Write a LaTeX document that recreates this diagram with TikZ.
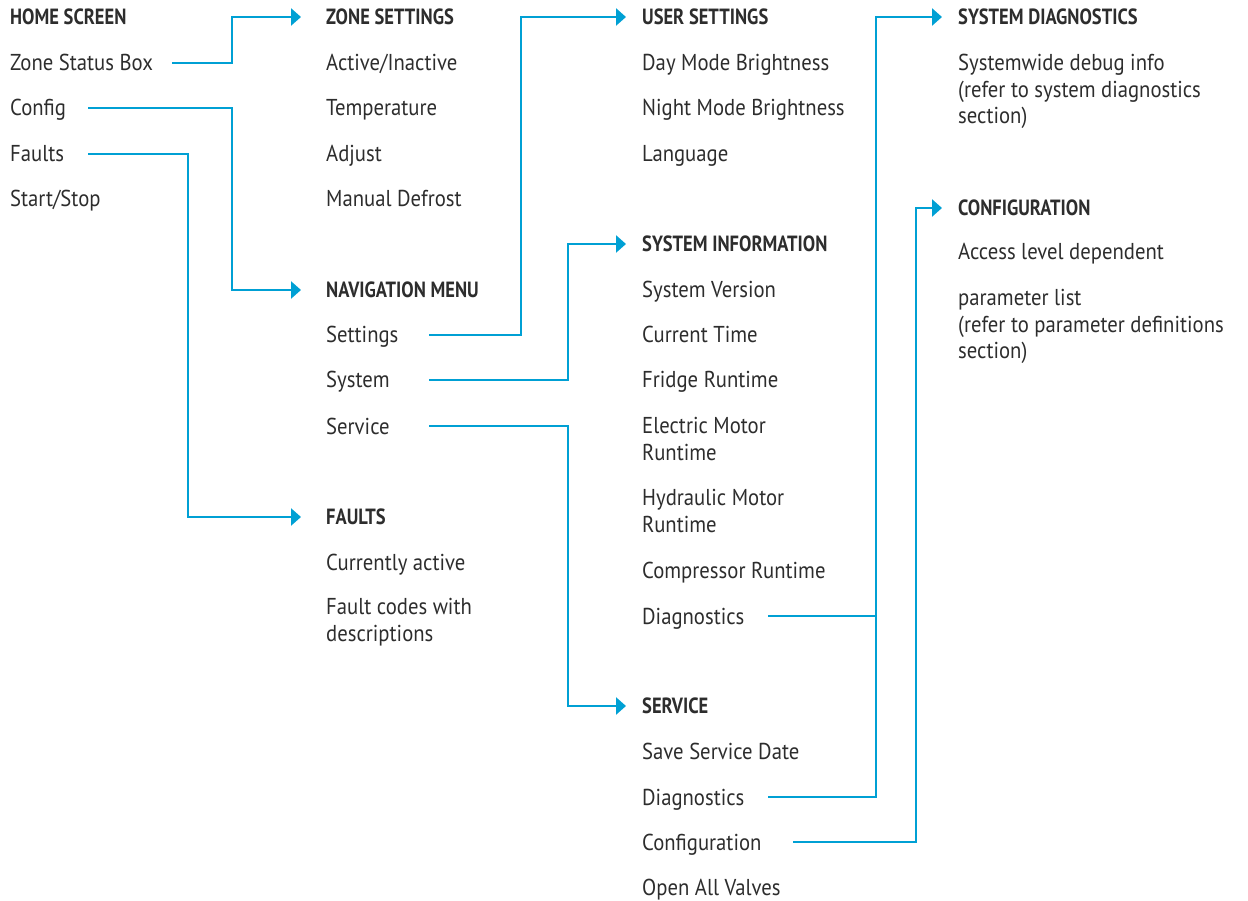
\documentclass[tikz,border=0pt]{standalone}
\usepackage{fontspec}
\setmainfont{PT Sans}[FakeStretch=0.9]
\newfontfamily\headfont{PT Sans}[FakeStretch=0.84]
\usetikzlibrary{arrows.meta}
\definecolor{menublue}{RGB}{0,160,212}
\definecolor{menutext}{RGB}{45,45,45}
\tikzset{
  item/.style={anchor=west, inner sep=0pt, text height=16pt, text depth=0pt, align=left,
    text=menutext, font=\fontsize{23}{26.5}\selectfont},
  head/.style={anchor=west, inner sep=0pt, text height=15.5pt, text depth=0pt,
    text=menutext, font=\headfont\bfseries\fontsize{22}{24}\selectfont},
  link/.style={draw=menublue, line width=2.5pt},
  tolink/.style={link, -{Triangle[length=10pt,width=17pt]}}
}
\begin{document}
\begin{tikzpicture}[x=1pt, y=-1pt]
\useasboundingbox (0,0) rectangle (1248,901);
% home screen
\node[head] (hs)  at (10,17)  {HOME SCREEN};
\node[item] (zsb) at (10,63)  {Zone Status Box};
\node[item] (cfg) at (10,108) {Config};
\node[item] (flt) at (10,154) {Faults};
\node[item] (ss)  at (10,199) {Start/Stop};
% second column
\node[head] (zs)  at (326,17)  {ZONE SETTINGS};
\node[item] (ai)  at (326,63)  {Active/Inactive};
\node[item] (tmp) at (326,108) {Temperature};
\node[item] (adj) at (326,154) {Adjust};
\node[item] (md)  at (326,199) {Manual Defrost};
\node[head] (nav) at (326,290) {NAVIGATION MENU};
\node[item] (set) at (326,335) {Settings};
\node[item] (sys) at (326,380) {System};
\node[item] (svc) at (326,426) {Service};
\node[head] (fh)  at (326,517) {FAULTS};
\node[item] (ca)  at (326,562) {Currently active};
\node[item] (fc)  at (326,633) {Fault codes with\\descriptions};
% third column
\node[head] (us)   at (642,17)  {USER SETTINGS};
\node[item] (dmb)  at (642,63)  {Day Mode Brightness};
\node[item] (nmb)  at (642,108) {Night Mode Brightness};
\node[item] (lang) at (642,154) {Language};
\node[head] (si)   at (642,244) {SYSTEM INFORMATION};
\node[item] (sv)   at (642,290) {System Version};
\node[item] (ct)   at (642,335) {Current Time};
\node[item] (fr)   at (642,380) {Fridge Runtime};
\node[item] (emr)  at (642,452) {Electric Motor\\Runtime};
\node[item] (hmr)  at (642,524) {Hydraulic Motor\\Runtime};
\node[item] (cr)   at (642,570) {Compressor Runtime};
\node[item] (dia)  at (642,616) {Diagnostics};
\node[head] (sh)   at (642,706) {SERVICE};
\node[item] (ssd)  at (642,751) {Save Service Date};
\node[item] (sdia) at (642,797) {Diagnostics};
\node[item] (scfg) at (642,842) {Configuration};
\node[item] (oav)  at (642,887) {Open All Valves};
% fourth column
\node[head] (sd)   at (958,17)  {SYSTEM DIAGNOSTICS};
\node[item] (swd)  at (958,116) {Systemwide debug info\\(refer to system diagnostics\\section)};
\node[head] (conf) at (958,208) {CONFIGURATION};
\node[item] (ald)  at (958,252) {Access level dependent};
\node[item] (pl)   at (958,351) {parameter list\\(refer to parameter definitions\\section)};
% connectors
\draw[tolink] (zsb.east -| 172,0) -| (232,0 |- zs.west) -- (zs.west -| 301,0);
\draw[tolink] (cfg.east -| 88,0) -| (232,0 |- nav.west) -- (nav.west -| 301,0);
\draw[tolink] (flt.east -| 88,0) -| (188,0 |- fh.west) -- (fh.west -| 301,0);
\draw[tolink] (set.east -| 429,0) -| (521,0 |- us.west) -- (us.west -| 626,0);
\draw[tolink] (sys.east -| 429,0) -| (568,0 |- si.west) -- (si.west -| 626,0);
\draw[tolink] (svc.east -| 429,0) -| (568,0 |- sh.west) -- (sh.west -| 626,0);
\draw[tolink] (dia.east -| 768,0) -| (876,0 |- sd.west) -- (sd.west -| 942,0);
\draw[link] (sdia.east -| 768,0) -| (876,0 |- dia.east);
\draw[tolink] (scfg.east -| 793,0) -| (916,0 |- conf.west) -- (conf.west -| 942,0);
\end{tikzpicture}
\end{document}
